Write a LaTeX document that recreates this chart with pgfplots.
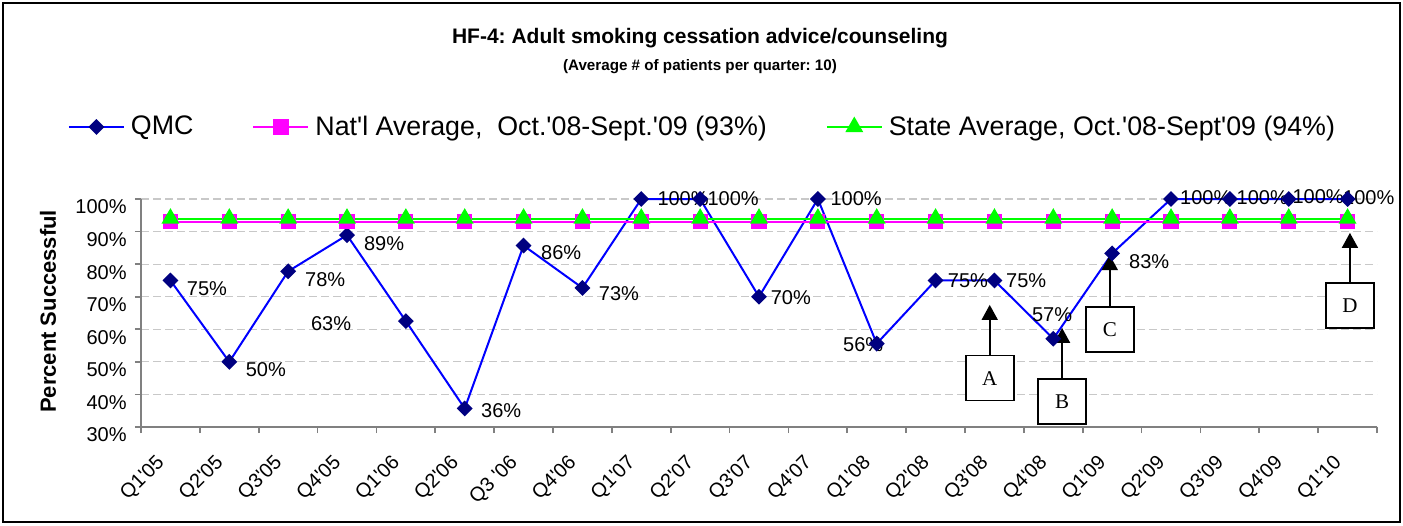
\documentclass[border=0pt]{standalone}
\usepackage{pgfplots}
\pgfplotsset{compat=1.18}
\usepackage{pgfplotstable}
\usepackage{fontspec}
\setmainfont{Liberation Sans}[Ligatures=TeXOff]
\newfontfamily\seriffont{Liberation Serif}
\usetikzlibrary{arrows.meta}
\definecolor{qmcline}{RGB}{0,0,255}
\definecolor{qmcmark}{RGB}{0,0,128}
\definecolor{natl}{RGB}{255,0,255}
\definecolor{stateg}{RGB}{0,255,0}
\definecolor{axgray}{RGB}{128,128,128}
\definecolor{gridgray}{RGB}{200,200,200}

\pgfplotstableread{
x qmc natl state
0 75 93 94
1 50 93 94
2 77.8 93 94
3 88.9 93 94
4 62.5 93 94
5 35.7 93 94
6 85.7 93 94
7 72.7 93 94
8 100 93 94
9 100 93 94
10 70 93 94
11 100 93 94
12 55.6 93 94
13 75 93 94
14 75 93 94
15 57.1 93 94
16 83.3 93 94
17 100 93 94
18 100 93 94
19 100 93 94
20 100 93 94
}\data

\begin{document}
\frenchspacing
\begin{tikzpicture}
\useasboundingbox (0pt,0pt) rectangle (701.5pt,262.5pt);
\draw[line width=0.8pt] (1.5pt,1.5pt) rectangle (700pt,261pt);
\node[font=\bfseries\fontsize{10.5}{12}\selectfont] at (350pt,243.5pt) {HF-4: Adult smoking cessation advice/counseling};
\node[font=\bfseries\fontsize{7.6}{9}\selectfont] at (350pt,229pt) {(Average \# of patients per quarter: 10)};
\begin{axis}[
  at={(70.5pt,49pt)}, anchor=south west,
  width=618pt, height=114pt, scale only axis,
  xmin=-0.5, xmax=20.5, ymin=30, ymax=100,
  clip=false,
  axis x line*=bottom, axis y line*=left,
  axis line style={axgray, line width=0.8pt},
  tick align=outside, tick pos=left,
  xtick={0,...,20},
  xticklabels={Q1'05,Q2'05,Q3'05,Q4'05,Q1'06,Q2'06,Q3 '06,Q4'06,Q1'07,Q2'07,Q3'07,Q4'07,Q1'08,Q2'08,Q3'08,Q4'08,Q1'09,Q2'09,Q3'09,Q4'09,Q1'10},
  major x tick style={draw=none},
  minor xtick={-0.5,0.5,...,20.5},
  minor x tick style={axgray, line width=0.8pt},
  minor tick length=3pt,
  major tick length=3pt,
  ytick={30,40,...,100},
  y tick style={axgray, line width=0.8pt},
  yticklabel={\pgfmathprintnumber{\tick}\%},
  /pgf/number format/assume math mode=true,
  yticklabel style={font=\fontsize{10}{12}\selectfont, inner sep=1pt, xshift=-3pt, yshift=-4pt},
  xticklabel style={font=\fontsize{10}{12}\selectfont, xshift=-7.6pt, yshift=-10pt, rotate=45, anchor=north east, inner sep=0pt},
  ymajorgrids,
  grid style={gridgray, dash pattern=on 4pt off 2pt, line width=0.6pt},
  ylabel={Percent Successful},
  ylabel style={at={(axis description cs:-0.0752,0.507)}, anchor=center, font=\bfseries\fontsize{11}{13}\selectfont},
  legend columns=3,
  legend style={at={(axis description cs:-0.0591,1.316)}, anchor=west, draw=none, fill=none, inner sep=0pt, outer sep=0pt,
    font=\fontsize{13.4}{16}\selectfont,
    /tikz/every odd column/.append style={column sep=3pt},
    /tikz/every even column/.append style={column sep=29.5pt},
    nodes={inner sep=0pt}},
  legend image code/.code={\draw[mark repeat=2, mark phase=2, #1] plot coordinates {(0pt,0pt) (13.75pt,0pt) (27.5pt,0pt)};},
]
\addplot[qmcline, line width=1pt, mark=square*, mark size=2.3pt, mark options={rotate=45, fill=qmcmark, draw=qmcmark, solid}] table[x=x, y=qmc] {\data};
\addlegendentry{QMC}
\addplot[natl, line width=1pt, mark=square*, mark size=3.3pt, mark options={fill=natl, draw=natl}] table[x=x, y=natl] {\data};
\addlegendentry{Nat'l Average,\ \ Oct.'08-Sept.'09 (93\%)}
\addplot[stateg, line width=1pt, mark=triangle*, mark size=4.2pt, mark options={fill=stateg, draw=stateg}] table[x=x, y=state] {\data};
\addlegendentry{State Average, Oct.'08-Sept'09 (94\%)}

\tikzset{lbl/.style={font=\fontsize{10}{12}\selectfont, inner sep=0pt}}
\node[lbl] at (axis cs:0.62,72.4) {75\%};
\node[lbl] at (axis cs:1.62,47.5) {50\%};
\node[lbl] at (axis cs:2.63,75.1) {78\%};
\node[lbl] at (axis cs:3.63,86.2) {89\%};
\node[lbl] at (axis cs:2.73,61.6) {63\%};
\node[lbl] at (axis cs:5.62,34.9) {36\%};
\node[lbl] at (axis cs:6.64,83.4) {86\%};
\node[lbl] at (axis cs:7.62,71.1) {73\%};
\node[lbl] at (axis cs:8.71,100) {100\%};
\node[lbl] at (axis cs:9.56,100) {100\%};
\node[lbl] at (axis cs:10.54,69.6) {70\%};
\node[lbl] at (axis cs:11.65,100) {100\%};
\node[lbl] at (axis cs:11.77,55.2) {56\%};
\node[lbl] at (axis cs:13.55,74.8) {75\%};
\node[lbl] at (axis cs:14.54,74.8) {75\%};
\node[lbl] at (axis cs:14.98,64.4) {57\%};
\node[lbl] at (axis cs:16.63,80.7) {83\%};
\node[lbl] at (axis cs:17.59,100.3) {100\%};
\node[lbl] at (axis cs:18.55,100.3) {100\%};
\node[lbl] at (axis cs:19.5,100.7) {100\%};
\node[lbl] at (axis cs:20.36,100.3) {100\%};

\tikzset{ann/.style={draw=black, line width=0.8pt, fill=white, minimum width=24pt, minimum height=22.5pt, inner sep=0pt, font=\seriffont\fontsize{10.5}{12}\selectfont},
  arr/.style={line width=0.8pt, -{Triangle[width=8pt,length=7.5pt]}}}
\draw[arr] (axis cs:13.92,51.8) -- (axis cs:13.92,67.5);
\node[ann] at (axis cs:13.92,45) {A};
\draw[arr] (axis cs:15.15,44.7) -- (axis cs:15.15,60.4);
\node[ann] at (axis cs:15.15,37.8) {B};
\draw[arr] (axis cs:15.96,66.8) -- (axis cs:15.96,82.8);
\node[ann] at (axis cs:15.96,59.9) {C};
\draw[arr] (axis cs:20.04,74.2) -- (axis cs:20.04,89.6);
\node[ann] at (axis cs:20.04,67.3) {D};
\end{axis}
\end{tikzpicture}
\end{document}
